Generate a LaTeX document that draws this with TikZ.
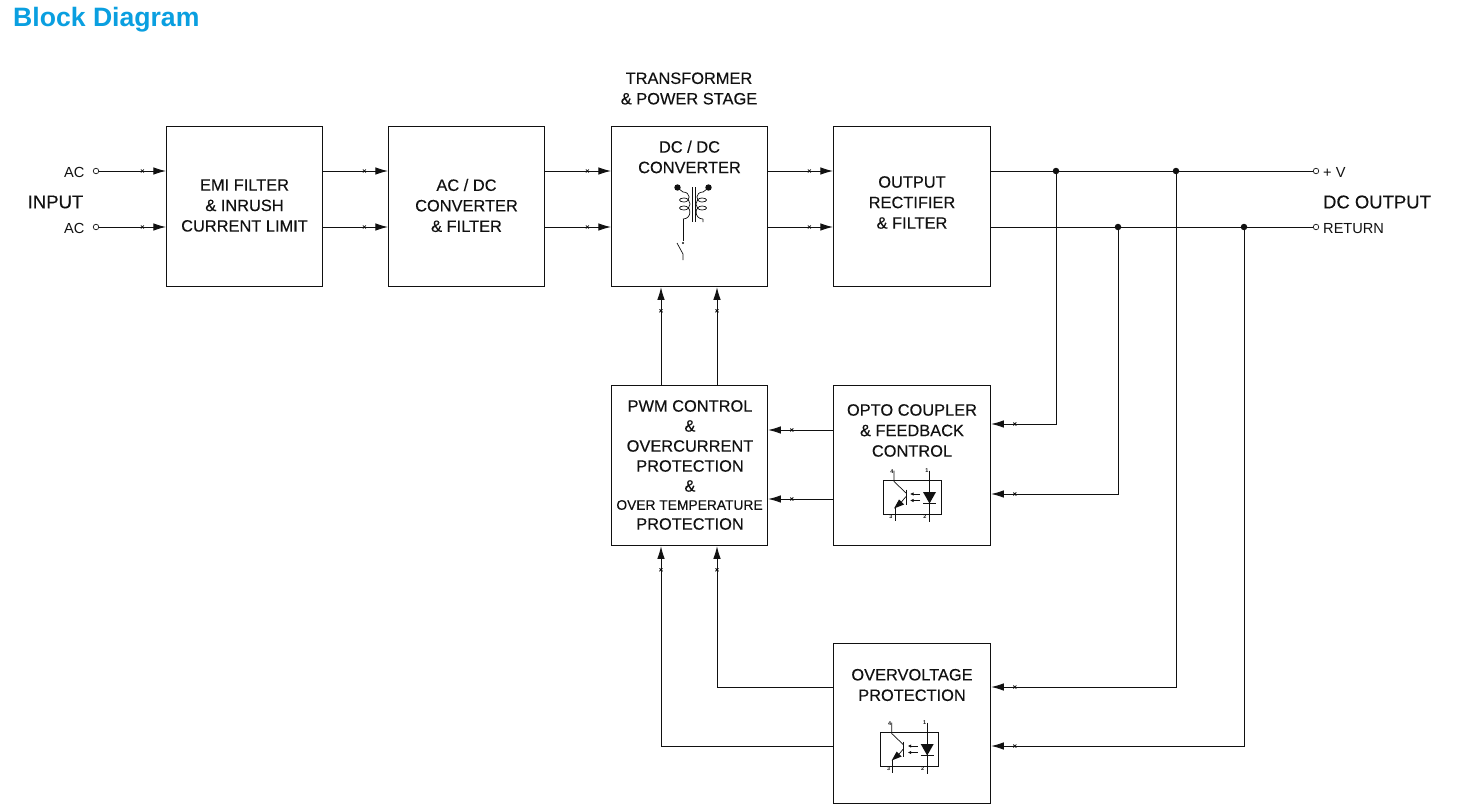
\documentclass[tikz,border=0pt]{standalone}
\usepackage{fontspec}
\setmainfont{Liberation Sans}
\newfontfamily\medfont[FakeBold=0.25]{Liberation Sans}
\usetikzlibrary{arrows.meta,decorations.markings,calc}
\definecolor{titleblue}{HTML}{0A9FE0}
\definecolor{ink}{HTML}{111111}
\tikzset{
  x=1pt,y=-1pt,
  every node/.style={text=ink,inner sep=0pt},
  blockbox/.style={draw=ink,line width=0.9pt,minimum width=#1,align=center},
  lbl/.style={font=\medfont\fontsize{16.4}{20.5}\selectfont,align=center},
  smalllbl/.style={font=\fontsize{14.6}{16}\selectfont},
  biglbl/.style={font=\medfont\fontsize{18.5}{20}\selectfont},
  wire/.style={draw=ink,line width=0.8pt},
  arr/.style={wire,-{Latex[length=12.5pt,width=7.5pt]},
    decoration={markings,mark=at position 1 with {\draw[arrows=-,line width=0.8pt] (-25,-1.5) -- (-22,1.5) (-25,1.5) -- (-22,-1.5);}},
    postaction={decorate}},
  term/.style={circle,draw=ink,fill=white,line width=0.7pt,minimum size=5.5pt},
  dotj/.style={circle,fill=ink,minimum size=6.5pt},
  sym/.style={draw=ink,line width=0.7pt},
  tiny/.style={font=\fontsize{5.5}{5}\selectfont\bfseries},
  opto/.pic={
    \draw[sym,line width=0.8pt] (-29,-17) rectangle (29,17);
    \draw[sym] (-18,-27) -- (-18,-16) -- (-6,-4.5);
    \draw[sym] (-17,10) -- (-17,23);
    \draw[sym] (-6,-1) -- (-11,5);
    \fill[ink] (-18,11) -- (-13,2) -- (-8,7) -- cycle;
    \draw[sym,line width=1pt] (-6,-8) -- (-6,7);
    \draw[sym,-{Latex[length=3.5pt,width=3.5pt]}] (8,-3.5) -- (-2,-3.5);
    \draw[sym,-{Latex[length=3.5pt,width=3.5pt]}] (8,3) -- (-2,3);
    \draw[sym] (17.5,-27) -- (17.5,24);
    \fill[ink] (11,-5.5) -- (24,-5.5) -- (17.5,6) -- cycle;
    \draw[sym,line width=0.9pt] (11,6) -- (24,6);
    \node[tiny] (n4) at (-20,-26) {4};
    \node[tiny] (n1) at (15,-26.5) {1};
    \node[tiny] (n3) at (-21,19.5) {3};
    \node[tiny] (n2) at (13,19.5) {2};
  },
  coilL/.pic={
    \draw[sym] (0,0) .. controls (8,0) and (8,10) .. (1,10) .. controls (-5,10) and (-5,6) .. (1,6)
      .. controls (9,6) and (9,18) .. (1,18) .. controls (-5,18) and (-5,14) .. (1,14)
      .. controls (9,14) and (9,27) .. (0,27);
  },
}
\begin{document}
\begin{tikzpicture}
\useasboundingbox (0,0) rectangle (1457,808);
\fill[white] (0,0) rectangle (1457,808);
% title
\node[anchor=west,font=\fontsize{26.6}{28}\selectfont\bfseries,text=titleblue] (title) at (13,19.5) {Block Diagram};
% rows
\coordinate (ya) at (0,171);
\coordinate (yb) at (0,227);
% blocks
\node[blockbox=156.5pt,minimum height=160.5pt] (emi) at (244.6,206.6) {};
\node[lbl] (emit) at (244.5,205.5) {EMI FILTER\\\& INRUSH\\CURRENT LIMIT};
\node[blockbox=156.5pt,minimum height=160.5pt] (acdc) at (466.6,206.6) {};
\node[lbl] (acdct) at (466.5,205.5) {AC / DC\\CONVERTER\\\& FILTER};
\node[blockbox=156.5pt,minimum height=160.5pt] (dcdc) at (689.6,206.6) {};
\node[lbl] (dcdct) at (689.5,157) {DC / DC\\CONVERTER};
\node[blockbox=157.5pt,minimum height=160.5pt] (outr) at (912.1,206.6) {};
\node[lbl] (outt) at (912,202.5) {OUTPUT\\RECTIFIER\\\& FILTER};
\node[blockbox=156.5pt,minimum height=160.5pt] (pwm) at (689.6,465.6) {};
\node[blockbox=157.5pt,minimum height=160.5pt] (optoc) at (912.1,465.6) {};
\node[lbl] (optot) at (912,430.5) {OPTO COUPLER\\\& FEEDBACK\\CONTROL};
\node[blockbox=157.5pt,minimum height=159.5pt] (ovp) at (912.1,723.3) {};
\node[lbl] (ovpt) at (912,685) {OVERVOLTAGE\\PROTECTION};
% PWM text
\node[lbl] (p1) at (690,406) {PWM CONTROL};
\node[lbl] (p2) at (690,426) {\&};
\node[lbl] (p3) at (690,446) {OVERCURRENT};
\node[lbl] (p4) at (690,466) {PROTECTION};
\node[lbl] (p5) at (690,486) {\&};
\node[font=\medfont\fontsize{13.8}{14}\selectfont] (p6) at (689.5,505) {OVER TEMPERATURE};
\node[lbl] (p7) at (690,524) {PROTECTION};
% free labels
\node[lbl] (tps) at (689,88.5) {TRANSFORMER\\\& POWER STAGE};
\node[biglbl] (inp) at (55.5,202) {INPUT};
\node[biglbl] (dco) at (1377,202) {DC OUTPUT};
\node[smalllbl,anchor=east] (ac1l) at (84.5,172.5) {AC};
\node[smalllbl,anchor=east] (ac2l) at (84.5,228.5) {AC};
\node[smalllbl,anchor=west] (pvl) at (1323,172.5) {+ V};
\node[smalllbl,anchor=west] (retl) at (1323,228.5) {RETURN};
% terminals
\node[term] (ac1) at (96,171) {};
\node[term] (ac2) at (96,227) {};
\node[term] (pv) at (1316,171) {};
\node[term] (ret) at (1316,227) {};
% junctions
\node[dotj] (j1) at (1056,171) {};
\node[dotj] (j2) at (1176,171) {};
\node[dotj] (j3) at (1118,227) {};
\node[dotj] (j4) at (1244,227) {};
% horizontal signal path
\draw[arr] (ac1) -- (emi.west |- ac1);
\draw[arr] (ac2) -- (emi.west |- ac2);
\draw[arr] (emi.east |- ya) -- (acdc.west |- ya);
\draw[arr] (emi.east |- yb) -- (acdc.west |- yb);
\draw[arr] (acdc.east |- ya) -- (dcdc.west |- ya);
\draw[arr] (acdc.east |- yb) -- (dcdc.west |- yb);
\draw[arr] (dcdc.east |- ya) -- (outr.west |- ya);
\draw[arr] (dcdc.east |- yb) -- (outr.west |- yb);
\draw[wire] (outr.east |- ya) -- (j1) -- (j2) -- (pv);
\draw[wire] (outr.east |- yb) -- (j3) -- (j4) -- (ret);
% feedback
\coordinate (yo1) at (0,424);
\coordinate (yo2) at (0,494);
\coordinate (yv1) at (0,687);
\coordinate (yv2) at (0,746);
\coordinate (yp1) at (0,430);
\coordinate (yp2) at (0,499);
\coordinate (xu1) at (661,0);
\coordinate (xu2) at (717,0);
\draw[arr] (j1) |- (optoc.east |- yo1);
\draw[arr] (j3) |- (optoc.east |- yo2);
\draw[arr] (j2) |- (ovp.east |- yv1);
\draw[arr] (j4) |- (ovp.east |- yv2);
\draw[arr] (optoc.west |- yp1) -- (pwm.east |- yp1);
\draw[arr] (optoc.west |- yp2) -- (pwm.east |- yp2);
\draw[arr] (pwm.north -| xu1) -- (dcdc.south -| xu1);
\draw[arr] (pwm.north -| xu2) -- (dcdc.south -| xu2);
\draw[arr] (ovp.west |- yv1) -| (pwm.south -| xu2);
\draw[arr] (ovp.west |- yv2) -| (pwm.south -| xu1);
% transformer symbol
\fill[ink] (677.5,187.5) circle (3.2pt) (708.5,187.5) circle (3.2pt);
\draw[sym] (692,187) -- (692,222) (695,187) -- (695,222);
\draw[sym] (679,189) .. controls (681,191) .. (683,192);
\pic at (683,192) {coilL};
\pic[xscale=-1] at (703,192) {coilL};
\draw[sym] (707,189) .. controls (705,191) .. (703,192) (703,219) -- (703,222);
\draw[sym] (683,219) -- (683,241);
\fill[ink] (683,243) circle (1.2pt);
\draw[sym] (677,243) -- (683,254) -- (683,260);
% optocouplers
\pic at (912,497.5) {opto};
\pic at (909.7,749.5) {opto};
\end{tikzpicture}
\end{document}
